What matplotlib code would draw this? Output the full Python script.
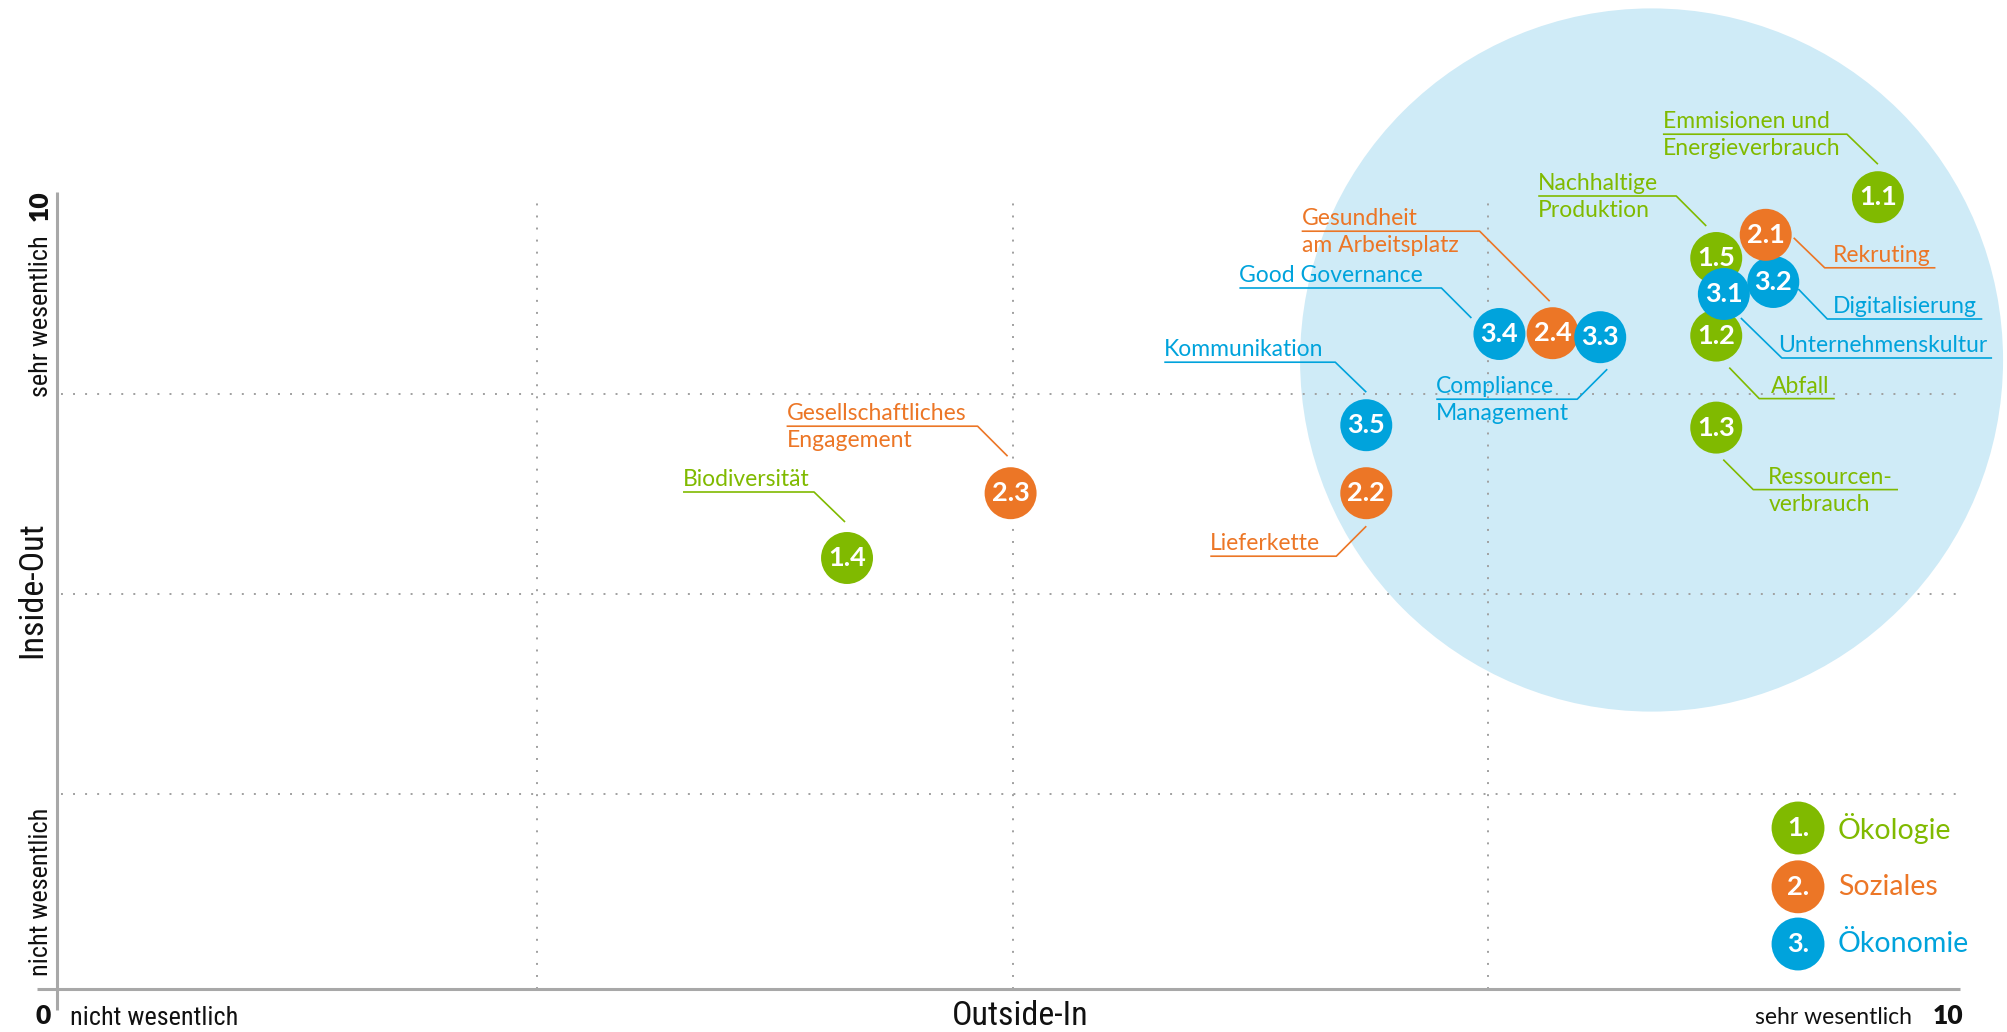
import matplotlib
matplotlib.use("Agg")
import numpy as np
import matplotlib.pyplot as plt
from matplotlib import font_manager
from matplotlib.patches import Ellipse

# --- data ---------------------------------------------------------------
codes = ["1.1", "1.2", "1.3", "1.4", "1.5",
         "2.1", "2.2", "2.3", "2.4",
         "3.1", "3.2", "3.3", "3.4", "3.5"]
topics = ["Emmisionen und\nEnergieverbrauch", "Abfall", "Ressourcen-\nverbrauch",
          "Biodiversität", "Nachhaltige\nProduktion",
          "Rekruting", "Lieferkette", "Gesellschaftliches\nEngagement",
          "Gesundheit\nam Arbeitsplatz",
          "Unternehmenskultur", "Digitalisierung", "Compliance\nManagement",
          "Good Governance", "Kommunikation"]
outside_in = [9.55, 8.70, 8.70, 4.13, 8.70,
              8.96, 6.86, 4.99, 7.84,
              8.74, 9.00, 8.09, 7.56, 6.86]
inside_out = [9.96, 8.23, 7.08, 5.45, 9.20,
              9.49, 6.26, 6.26, 8.26,
              8.75, 8.90, 8.21, 8.25, 7.11]

groups = ["Ökologie", "Soziales", "Ökonomie"]
group_nums = ["1.", "2.", "3."]
colors = {"1": "#80ba00", "2": "#ec7626", "3": "#00a3dc"}

# drawing order (later = on top)
draw_order = ["1.4", "2.3", "2.2", "3.5", "3.4", "2.4", "3.3",
              "1.3", "1.2", "1.5", "3.2", "2.1", "3.1", "1.1"]

# leader line layout in pixels relative to the bubble (x right, y down):
# (near end, elbow, text x offset)
leader = {
    "1.1": ((0, -33), (-31, -63), -215),
    "1.5": ((-10, -32), (-40, -62), -178),
    "2.1": ((28, 3), (59, 33), 67),
    "3.2": ((25, 7), (54, 37), 60),
    "3.1": ((17, 24), (58, 64), 54),
    "1.2": ((13, 32), (43, 63), 55),
    "1.3": ((7, 32), (37, 62), 52),
    "3.3": ((7, 32), (-23, 62), -164),
    "2.4": ((-3, -32), (-73, -102), -251),
    "3.4": ((-28, -16), (-58, -46), -260),
    "3.5": ((0, -33), (-31, -63), -202),
    "2.2": ((0, 33), (-30, 63), -156),
    "2.3": ((-3, -37), (-33, -67), -224),
    "1.4": ((-2, -36), (-33, -66), -164),
}

# --- fonts --------------------------------------------------------------
names = {f.name for f in font_manager.fontManager.ttflist}
FONT = "Lato" if "Lato" in names else "DejaVu Sans"
COND = FONT
for cand in ["Roboto Condensed", "Liberation Sans Narrow", "Open Sans Condensed"]:
    if cand in names:
        COND = cand
        break
cond_kw = dict(family=COND)
# narrower fallback sizes when no condensed family is present
cs = 1.0 if COND != FONT else 0.8
plt.rcParams["font.family"] = [FONT, "DejaVu Sans"]

W, H = 2008, 1032
fig = plt.figure(figsize=(W / 100, H / 100), dpi=100)
ax = fig.add_axes([61.5 / W, (H - 994) / H, 1902 / W, 800 / H])
ax.set_xlim(0, 10)
ax.set_ylim(0, 10)
ax.axis("off")

# highlight circle
ax.add_patch(Ellipse((8.36, 7.925), 3.696, 8.79, facecolor="#cfebf7",
                     edgecolor="none", zorder=0, clip_on=False))

# dotted grid
for v in [2.5, 5, 7.5]:
    ax.plot([v, v], [0.06, 10], color="#a0a0a0", lw=1.4,
            ls=(0, (1.0, 5.2)), zorder=1, clip_on=False)
    ax.plot([0, 10], [v, v], color="#a0a0a0", lw=1.4,
            ls=(0, (1.0, 5.2)), zorder=1, clip_on=False)

# axes lines
ax.plot([-0.024, -0.024], [-0.2, 10.025], color="#a8a8a8", lw=2.2,
        zorder=2, clip_on=False, solid_capstyle="butt")
ax.plot([-0.13, 9.98], [0.0625, 0.0625], color="#a8a8a8", lw=2.2,
        zorder=2, clip_on=False, solid_capstyle="butt")

# axis texts
ax.text(-0.095, -0.375, "0", fontsize=19, fontweight="heavy", ha="center",
        va="baseline", color="#111111")
ax.text(9.84, -0.375, "10", fontsize=19, fontweight="heavy", ha="left",
        va="baseline", color="#111111")
ax.text(0.045, -0.39, "nicht wesentlich", fontsize=18.9 * cs, ha="left",
        va="baseline", color="#111111", **cond_kw)
ax.text(5.04, -0.39, "Outside-In", fontsize=24.5 * cs, ha="center",
        va="baseline", color="#111111", **cond_kw)
ax.text(9.73, -0.375, "sehr wesentlich", fontsize=16.5, ha="right",
        va="baseline", color="#111111")
ax.text(-0.113, 9.86, "10", fontsize=19, fontweight="heavy", rotation=90,
        ha="center", va="center", color="#111111")
ax.text(-0.108, 7.46, "sehr wesentlich", fontsize=18.9 * cs, rotation=90,
        rotation_mode="anchor", ha="left", va="center", color="#111111",
        **cond_kw)
ax.text(-0.108, 0.225, "nicht wesentlich", fontsize=18.9 * cs, rotation=90,
        rotation_mode="anchor", ha="left", va="center", color="#111111",
        **cond_kw)
ax.text(-0.155, 5.06, "Inside-Out", fontsize=24.5 * cs, rotation=90,
        ha="center", va="center", color="#111111", **cond_kw)

renderer = fig.canvas.get_renderer()
to_data = ax.transData.inverted()

# bubbles + labels
for k, code in enumerate(draw_order):
    i = codes.index(code)
    x, y = outside_in[i], inside_out[i]
    col = colors[code[0]]
    z = 10 + 2 * k
    ax.scatter([x], [y], s=1400, color=col, edgecolors="none", zorder=z,
               clip_on=False)
    ax.text(x, y, code, fontsize=19.5, fontweight="bold", color="white",
            ha="center", va="center", zorder=z + 1)

    near, elbow, tdx = leader[code]
    bx, by = ax.transData.transform((x, y))
    uy = by - elbow[1]
    lines = topics[i].split("\n")
    texts = []
    for j, line in enumerate(lines):
        base = uy + 6 if j == 0 else uy - 21
        tx, ty = to_data.transform((bx + tdx, base))
        texts.append(ax.text(tx, ty, line, fontsize=16.5, color=col,
                             ha="left", va="baseline", zorder=5))
    if elbow[0] > 0:
        right = texts[0].get_window_extent(renderer).x1
        far = right + 5
    else:
        far = bx + tdx
    pts = np.array([[bx + near[0], by - near[1]],
                    [bx + elbow[0], by - elbow[1]],
                    [far, by - elbow[1]]])
    dp = to_data.transform(pts)
    ax.plot(dp[:, 0], dp[:, 1], color=col, lw=1.2, zorder=4, clip_on=False,
            solid_capstyle="butt")

# legend
leg_y = [0.2075, 0.134, 0.0625]
for g, (name, num) in enumerate(zip(groups, group_nums)):
    col = colors[num[0]]
    ax.scatter([0.913], [leg_y[g]], s=1450, color=col, edgecolors="none",
               transform=ax.transAxes, zorder=30, clip_on=False)
    ax.text(0.913, leg_y[g], num, fontsize=19.5, fontweight="bold",
            color="white", ha="center", va="center", transform=ax.transAxes,
            zorder=31)
    ax.text(0.934, leg_y[g], name, fontsize=20.5, color=col, ha="left",
            va="center", transform=ax.transAxes, zorder=31)

fig.savefig("out.png", dpi=100)
